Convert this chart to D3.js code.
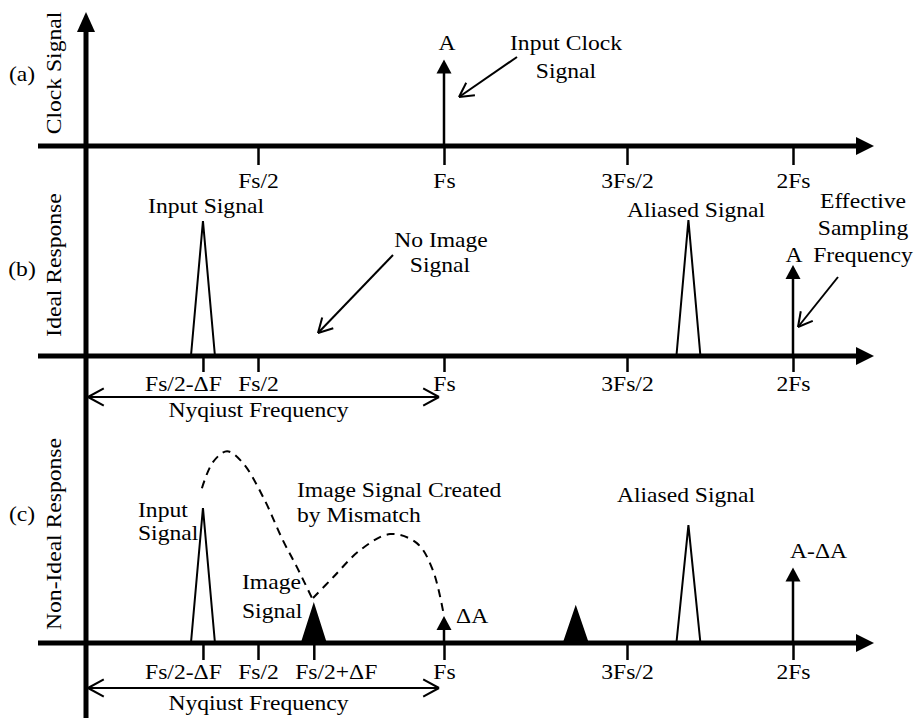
<!DOCTYPE html>
<html>
<head>
<meta charset="utf-8">
<script src="https://cdn.jsdelivr.net/npm/d3@7.9.0/dist/d3.min.js"></script>
<style>
  body { margin: 0; background: #fff; }
  text { font-family: "Liberation Serif", "Times New Roman", serif; font-size: 20px; fill: #000; }
</style>
</head>
<body>
<div id="chart"></div>
<script>
// frequencies in units of Fs, amplitudes in units of A
const tickValsA = [0.5, 1, 1.5, 2];
const tickLabelsA = ['Fs/2', 'Fs', '3Fs/2', '2Fs'];
const tickValsB = [0.34, 0.5, 1, 1.5, 2];
const tickLabelsB = ['Fs/2-ΔF', 'Fs/2', 'Fs', '3Fs/2', '2Fs'];
const tickValsC = [0.34, 0.5, 0.65, 1, 1.5, 2];
const tickLabelsC = ['Fs/2-ΔF', 'Fs/2', 'Fs/2+ΔF', 'Fs', '3Fs/2', '2Fs'];

const impulsesA = [{ f: 1, amp: 0.96, label: 'A' }];
const impulsesB = [{ f: 2, amp: 1.01, label: 'A' }];
const impulsesC = [{ f: 1, amp: 0.3, label: 'ΔA' }, { f: 2, amp: 0.84, label: 'A-ΔA' }];

const peaksB = [
  { f: 0.34, amp: 1.5, filled: false },
  { f: 1.685, amp: 1.51, filled: false },
];
const peaksC = [
  { f: 0.34, amp: 1.5, filled: false },
  { f: 0.65, amp: 0.42, filled: true },
  { f: 1.36, amp: 0.39, filled: true },
  { f: 1.685, amp: 1.31, filled: false },
];

const mismatchCurve1 = [[0.337, 1.72], [0.369, 2.01], [0.41, 2.13], [0.456, 2.0], [0.514, 1.62],
  [0.567, 1.14], [0.605, 0.84], [0.645, 0.5]];
const mismatchCurve2 = [[0.648, 0.5], [0.702, 0.73], [0.774, 1.03], [0.855, 1.21], [0.927, 1.11],
  [0.97, 0.81], [1.0, 0.3]];

const panelNames = ['(a)', '(b)', '(c)'];
const panelTitles = ['Clock Signal', 'Ideal Response', 'Non-Ideal Response'];

const width = 916, height = 718;
const STRETCH = 1.18;

const svg = d3.select('#chart').append('svg')
  .attr('width', width)
  .attr('height', height);

const x = d3.scaleLinear()
  .domain([0, 0.5, 1, 1.5, 2])
  .range([86, 258, 444, 627, 793]);

function ampScale(axisY) {
  return d3.scaleLinear().domain([0, 1]).range([axisY, axisY - 90]);
}

function label(g, px, py, str, anchor = 'middle') {
  return g.append('text')
    .attr('transform', `translate(${px},${py}) scale(${STRETCH},1)`)
    .attr('text-anchor', anchor)
    .text(str);
}

function openArrow(g, x1, y1, x2, y2, head = 16, spread = 0.5, width = 2) {
  g.append('line').attr('x1', x1).attr('y1', y1).attr('x2', x2).attr('y2', y2)
    .attr('stroke', '#000').attr('stroke-width', width);
  const a = Math.atan2(y2 - y1, x2 - x1);
  for (const s of [-spread, spread]) {
    g.append('line')
      .attr('x1', x2).attr('y1', y2)
      .attr('x2', x2 - head * Math.cos(a + s))
      .attr('y2', y2 - head * Math.sin(a + s))
      .attr('stroke', '#000').attr('stroke-width', width);
  }
}

function nyquist(g, y, textY) {
  const x1 = x(0) + 2, x2 = x(1) - 5;
  openArrow(g, x2, y, x1, y, 18, 0.5, 2);
  openArrow(g, x1, y, x2, y, 18, 0.5, 2);
  label(g, (x1 + x2) / 2 - 5, textY, 'Nyqiust Frequency');
}

function freqAxis(axisY, vals, labels, tickSize, padding) {
  const g = svg.append('g');
  // thick axis line with arrow
  g.append('line')
    .attr('x1', 38).attr('x2', 856)
    .attr('y1', axisY).attr('y2', axisY)
    .attr('stroke', '#000').attr('stroke-width', 5);
  g.append('path')
    .attr('d', `M856,${axisY - 9}L874,${axisY}L856,${axisY + 9}Z`)
    .attr('fill', '#000');

  const ax = svg.append('g')
    .attr('transform', `translate(0,${axisY})`)
    .call(d3.axisBottom(x).tickValues(vals)
      .tickFormat((d, i) => labels[i])
      .tickSize(tickSize).tickPadding(padding));
  ax.select('.domain').remove();
  ax.attr('font-size', null).attr('font-family', null);
  ax.selectAll('.tick line').attr('stroke-width', 2.5);
  ax.selectAll('.tick text')
    .attr('fill', '#000')
    .attr('transform', (d, i) => {
      const dx = labels[i].endsWith('-ΔF') ? -20 : labels[i].endsWith('+ΔF') ? 22 : 0;
      return `translate(${dx},0) scale(${STRETCH},1)`;
    });
}

function impulses(data, axisY) {
  const y = ampScale(axisY);
  const g = svg.append('g');
  g.selectAll('line').data(data).join('line')
    .attr('x1', d => x(d.f)).attr('x2', d => x(d.f))
    .attr('y1', axisY).attr('y2', d => y(d.amp) + 10)
    .attr('stroke', '#000').attr('stroke-width', 2.5);
  g.selectAll('path').data(data).join('path')
    .attr('d', d => {
      const cx = x(d.f), ty = y(d.amp);
      return `M${cx},${ty}L${cx + 7.5},${ty + 14}L${cx - 7.5},${ty + 14}Z`;
    })
    .attr('fill', '#000');
  return y;
}

function peaks(data, axisY) {
  const y = ampScale(axisY);
  svg.append('g').selectAll('path').data(data).join('path')
    .attr('d', d => {
      const cx = x(d.f);
      return `M${cx - 12},${axisY}L${cx},${y(d.amp)}L${cx + 12},${axisY}` + (d.filled ? 'Z' : '');
    })
    .attr('fill', d => d.filled ? '#000' : 'none')
    .attr('stroke', '#000')
    .attr('stroke-width', 2)
    .attr('stroke-linejoin', 'miter');
}

// vertical axis
svg.append('line')
  .attr('x1', 86).attr('x2', 86).attr('y1', 28).attr('y2', height)
  .attr('stroke', '#000').attr('stroke-width', 5);
svg.append('path').attr('d', 'M77,32L86,12L95,32Z').attr('fill', '#000');

// panel side labels
const sideG = svg.append('g');
[81, 276, 521].forEach((py, i) => label(sideG, 22, py, panelNames[i]));
[73, 265, 534].forEach((py, i) => {
  sideG.append('text')
    .attr('transform', `translate(61,${py}) rotate(-90) scale(${STRETCH},1)`)
    .attr('text-anchor', 'middle')
    .text(panelTitles[i]);
});

// ---- (a) clock signal
const axisA = 146, axisB = 356, axisC = 643;
freqAxis(axisA, tickValsA, tickLabelsA, 19, 9);
const yA = impulses(impulsesA, axisA);
const annA = svg.append('g');
label(annA, x(1) + 3, yA(impulsesA[0].amp) - 10, impulsesA[0].label);
label(annA, 566, 50, 'Input Clock');
label(annA, 566, 78, 'Signal');
openArrow(annA, 517, 57, 459, 97, 16, 0.5, 2);

// ---- (b) ideal response
freqAxis(axisB, tickValsB, tickLabelsB, 16, 5);
peaks(peaksB, axisB);
const yB = impulses(impulsesB, axisB);
const annB = svg.append('g');
label(annB, 206, 213, 'Input Signal');
label(annB, 696, 217, 'Aliased Signal');
label(annB, 441, 247, 'No Image');
label(annB, 440, 272, 'Signal');
openArrow(annB, 393, 255, 318, 333, 16, 0.5, 2);
label(annB, x(2) + 1, yB(impulsesB[0].amp) - 3, impulsesB[0].label);
label(annB, 863, 208, 'Effective');
label(annB, 863, 235, 'Sampling');
label(annB, 863, 262, 'Frequency');
openArrow(annB, 838, 277, 798, 327, 16, 0.5, 2);
nyquist(annB, 397, 417);

// ---- (c) non-ideal response
freqAxis(axisC, tickValsC, tickLabelsC, 17, 5);
const yC = ampScale(axisC);
const curve = d3.line()
  .x(d => x(d[0]))
  .y(d => yC(d[1]))
  .curve(d3.curveCatmullRom);
svg.append('g').selectAll('path')
  .data([mismatchCurve1, mismatchCurve2])
  .join('path')
  .attr('d', curve)
  .attr('fill', 'none')
  .attr('stroke', '#000')
  .attr('stroke-width', 2)
  .attr('stroke-dasharray', '8,6');
peaks(peaksC, axisC);
impulses(impulsesC, axisC);
const annC = svg.append('g');
label(annC, 138, 517, 'Input', 'start');
label(annC, 138, 540, 'Signal', 'start');
label(annC, 242, 589, 'Image', 'start');
label(annC, 242, 618, 'Signal', 'start');
label(annC, 297, 497, 'Image Signal Created', 'start');
label(annC, 297, 522, 'by Mismatch', 'start');
label(annC, 686, 502, 'Aliased Signal');
label(annC, x(1) + 12, 623, impulsesC[0].label, 'start');
label(annC, x(2) - 3, 558, impulsesC[1].label, 'start');
nyquist(annC, 688, 710);
</script>
</body>
</html>
